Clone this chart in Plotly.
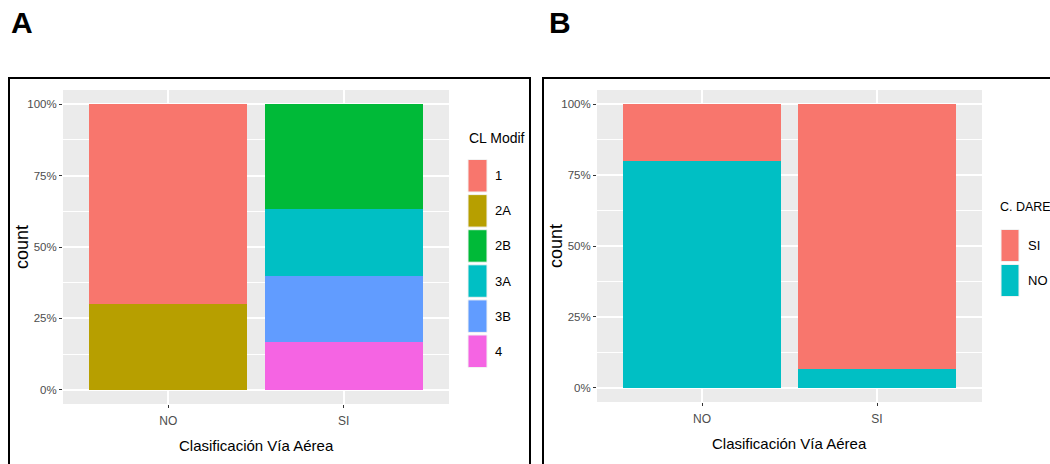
import plotly.graph_objects as go

# ---------------- data ----------------
groups = ["NO", "SI"]

cl_levels = ["1", "2A", "2B", "3A", "3B", "4"]
cl_1 = [7, 0]
cl_2A = [3, 0]
cl_2B = [0, 11]
cl_3A = [0, 7]
cl_3B = [0, 7]
cl_4 = [0, 5]
cl_colors = ["#F8766D", "#B79F00", "#00BA38", "#00BFC4", "#619CFF", "#F564E3"]

dare_levels = ["SI", "NO"]
dare_SI = [2, 28]
dare_NO = [8, 2]
dare_colors = ["#F8766D", "#00BFC4"]

y_ticks = [0, 0.25, 0.5, 0.75, 1.0]
y_tick_labels = ["0%", "25%", "50%", "75%", "100%"]

# ---------------- layout helpers ----------------
W, H = 1050, 464
def px(x):
    return x / W
def py(y):
    return 1 - y / H

FONT = "Liberation Sans, Arial, Helvetica, sans-serif"

fig = go.Figure()

def fill(series_list):
    totals = [sum(v[i] for v in series_list) for i in range(len(groups))]
    return [[v[i] / totals[i] for i in range(len(groups))] for v in series_list]

cl_series = [cl_1, cl_2A, cl_2B, cl_3A, cl_3B, cl_4]
cl_fill = fill(cl_series)
# ggplot stacks the first level on top -> add in reverse
for lvl, vals, col in reversed(list(zip(cl_levels, cl_fill, cl_colors))):
    fig.add_trace(go.Bar(x=groups, y=vals, name=lvl, marker=dict(color=col, line=dict(width=0)),
                         width=0.9, showlegend=False, xaxis="x", yaxis="y"))

dare_series = [dare_SI, dare_NO]
dare_fill = fill(dare_series)
for lvl, vals, col in reversed(list(zip(dare_levels, dare_fill, dare_colors))):
    fig.add_trace(go.Bar(x=groups, y=vals, name=lvl, marker=dict(color=col, line=dict(width=0)),
                         width=0.9, showlegend=False, xaxis="x2", yaxis="y2"))

def xax(domain):
    return dict(domain=domain, type="category", range=[-0.6, 1.6], showgrid=True,
                gridcolor="white", gridwidth=1.6, ticks="outside", ticklen=3, tickwidth=1,
                tickcolor="#333333", tickfont=dict(family=FONT, size=12, color="#4D4D4D"),
                ticklabelstandoff=3,
                zeroline=False, showline=False, fixedrange=True)

def yax(domain, anchor):
    return dict(domain=domain, anchor=anchor, range=[-0.05, 1.05], tickvals=y_ticks,
                ticktext=y_tick_labels, showgrid=True, gridcolor="white", gridwidth=1.6,
                minor=dict(dtick=0.125, tick0=0, showgrid=True, gridcolor="white", gridwidth=0.8, ticks=""),
                ticks="outside", ticklen=3, tickwidth=1, tickcolor="#333333",
                tickfont=dict(family=FONT, size=11.5, color="#4D4D4D"),
                zeroline=False, showline=False, fixedrange=True)

fig.update_layout(
    template="none",
    width=W, height=H, margin=dict(l=0, r=0, t=0, b=0),
    paper_bgcolor="white", plot_bgcolor="#EBEBEB",
    barmode="stack", showlegend=False,
    xaxis=dict(xax([px(63), px(449)]), anchor="y"),
    yaxis=yax([py(404), py(90)], "x"),
    xaxis2=dict(xax([px(597), px(982)]), anchor="y2"),
    yaxis2=yax([py(402), py(90)], "x2"),
)

shapes = []
annotations = []

# panel borders
shapes.append(dict(type="rect", xref="paper", yref="paper", x0=px(9), x1=px(530), y0=py(475), y1=py(78),
                   line=dict(color="black", width=2), fillcolor="rgba(0,0,0,0)", layer="above"))
shapes.append(dict(type="rect", xref="paper", yref="paper", x0=px(543), x1=px(1060), y0=py(475), y1=py(78),
                   line=dict(color="black", width=2), fillcolor="rgba(0,0,0,0)", layer="above"))

# panel letters
annotations.append(dict(text="<b>A</b>", x=px(9), y=py(23), xref="paper", yref="paper", xanchor="left",
                        yanchor="middle", showarrow=False, font=dict(family=FONT, size=30, color="black")))
annotations.append(dict(text="<b>B</b>", x=px(547), y=py(23), xref="paper", yref="paper", xanchor="left",
                        yanchor="middle", showarrow=False, font=dict(family=FONT, size=30, color="black")))

# axis titles
for cx, cy in [(256, 445), (789.5, 443)]:
    annotations.append(dict(text="Clasificación Vía Aérea", x=px(cx), y=py(cy), xref="paper", yref="paper",
                            xanchor="center", yanchor="middle", showarrow=False,
                            font=dict(family=FONT, size=15, color="black")))
for cx, cy in [(22, 247), (556, 246)]:
    annotations.append(dict(text="count", x=px(cx), y=py(cy), xref="paper", yref="paper", textangle=-90,
                            xanchor="center", yanchor="middle", showarrow=False,
                            font=dict(family=FONT, size=18, color="black")))

# legends
def legend(title, tx, ty, levels, colors, kx0, kx1, ky0, pitch, kh, lx, tsize):
    annotations.append(dict(text=title, x=px(tx), y=py(ty), xref="paper", yref="paper", xanchor="left",
                            yanchor="middle", showarrow=False, font=dict(family=FONT, size=tsize, color="black")))
    for i, (lvl, col) in enumerate(zip(levels, colors)):
        y0 = ky0 + i * pitch
        shapes.append(dict(type="rect", xref="paper", yref="paper", x0=px(kx0), x1=px(kx1),
                           y0=py(y0 + kh), y1=py(y0), fillcolor=col, line=dict(color="#F2F2F2", width=1)))
        annotations.append(dict(text=lvl, x=px(lx), y=py(y0 + kh / 2), xref="paper", yref="paper",
                                xanchor="left", yanchor="middle", showarrow=False,
                                font=dict(family=FONT, size=13, color="black")))

legend("CL Modif", 467, 138, cl_levels, cl_colors, 468, 487, 159.5, 35.1, 32.5, 493, 14)
legend("C. DARE", 998, 207, dare_levels, dare_colors, 1001, 1019, 229.5, 35, 32, 1026, 12.5)

fig.update_layout(shapes=shapes, annotations=annotations)
fig.write_html("out.html", config={"displayModeBar": False},
               post_script="document.body.style.margin='0';document.body.style.padding='0';")
